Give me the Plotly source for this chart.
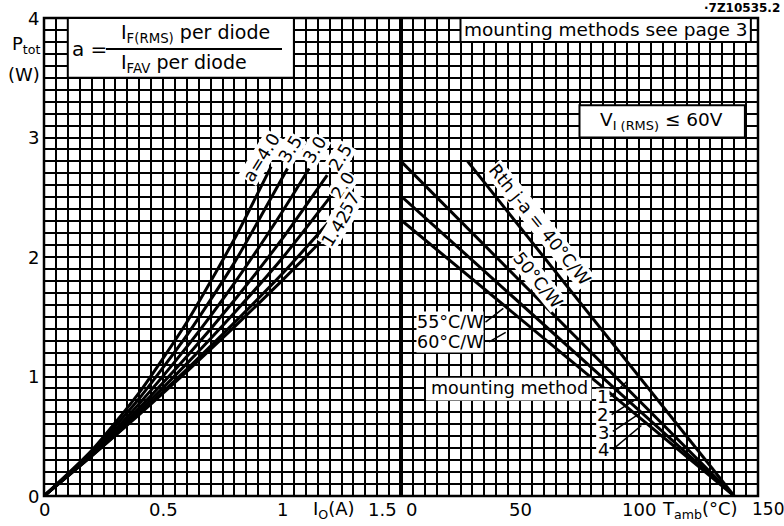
import plotly.graph_objects as go

# ---------------- data ----------------
# left panel: P_tot (W) versus I_O (A) for several form factors a
a_labels = ["a=4.0", "3.5", "3.0", "2.5", "2.0", "1.57", "1.42"]
I_a40 = [0, 0.2, 0.4, 0.6, 0.8, 0.954]
P_a40 = [0, 0.38, 0.865, 1.454, 2.15, 2.756]
I_a35 = [0, 0.2, 0.4, 0.6, 0.8, 1.023]
P_a35 = [0, 0.367, 0.816, 1.344, 1.953, 2.74]
I_a30 = [0, 0.2, 0.4, 0.6, 0.8, 1.0, 1.114]
P_a30 = [0, 0.357, 0.773, 1.248, 1.782, 2.375, 2.74]
I_a25 = [0, 0.2, 0.4, 0.6, 0.8, 1.0, 1.19]
P_a25 = [0, 0.348, 0.737, 1.167, 1.638, 2.15, 2.686]
I_a20 = [0, 0.2, 0.4, 0.6, 0.8, 1.0, 1.198]
P_a20 = [0, 0.341, 0.711, 1.108, 1.534, 1.987, 2.49]
I_a157 = [0, 0.2, 0.4, 0.6, 0.8, 1.0, 1.198]
P_a157 = [0, 0.336, 0.69, 1.061, 1.451, 1.857, 2.295]
I_a142 = [0, 0.2, 0.4, 0.6, 0.8, 1.0, 1.19]
P_a142 = [0, 0.334, 0.681, 1.041, 1.416, 1.802, 2.184]

# right panel: P_tot (W) versus T_amb (degC) for thermal resistances
rth_labels = ["Rth j-a = 40°C/W", "50°C/W", "55°C/W", "60°C/W"]
T_r40 = [28, 140]
P_r40 = [2.8, 0]
T_r50 = [0, 140]
P_r50 = [2.8, 0]
T_r55 = [0, 140]
P_r55 = [2.51, 0]
T_r60 = [0, 140]
P_r60 = [2.31, 0]

mounting_labels = ["1", "2", "3", "4"]

# tick labels
y_ticks = [0, 1, 2, 3, 4]
x1_ticks = [0, 0.5, 1, 1.5]
x1_text = ["0", "0.5", "1", "1.5"]
x2_ticks = [0, 50, 100, 150]
x2_text = ["0", "50", "100", "150"]

FONT = "DejaVu Sans"
BLACK = "black"

fig = go.Figure()

left_series = [(I_a40, P_a40), (I_a35, P_a35), (I_a30, P_a30), (I_a25, P_a25),
               (I_a20, P_a20), (I_a157, P_a157), (I_a142, P_a142)]
for (xs, ys), name in zip(left_series, a_labels):
    fig.add_trace(go.Scatter(x=xs, y=ys, xaxis="x", yaxis="y", mode="lines",
                             line=dict(color=BLACK, width=3, shape="spline", smoothing=0.6),
                             name=name, showlegend=False, hoverinfo="skip"))

right_series = [(T_r40, P_r40), (T_r50, P_r50), (T_r55, P_r55), (T_r60, P_r60)]
for (xs, ys), name in zip(right_series, rth_labels):
    fig.add_trace(go.Scatter(x=xs, y=ys, xaxis="x2", yaxis="y2", mode="lines",
                             line=dict(color=BLACK, width=3),
                             name=name, showlegend=False, hoverinfo="skip"))

def grid_axis(rng, dtick, mdtick, domain=None, anchor=None):
    d = dict(range=rng, dtick=dtick, tick0=0, showgrid=True, gridcolor=BLACK,
             gridwidth=2.4, zeroline=False, showticklabels=False, ticks="",
             showline=False, fixedrange=True,
             minor=dict(dtick=mdtick, tick0=0, showgrid=True, gridcolor=BLACK, gridwidth=1.5))
    if domain is not None:
        d["domain"] = domain
    if anchor is not None:
        d["anchor"] = anchor
    return d

fig.update_layout(
    width=784, height=526,
    margin=dict(l=44, r=26, t=18, b=30),
    paper_bgcolor="white", plot_bgcolor="white",
    xaxis=grid_axis([0, 1.5], 0.25, 0.05, domain=[0, 0.5], anchor="y"),
    xaxis2=grid_axis([0, 150], 25, 5, domain=[0.5, 1], anchor="y2"),
    yaxis=grid_axis([0, 4], 0.5, 0.1, anchor="x"),
    yaxis2=grid_axis([0, 4], 0.5, 0.1, anchor="x2"),
    font=dict(family=FONT, color=BLACK, size=17),
)

shapes = []
# frame and divider
shapes.append(dict(type="rect", xref="paper", yref="paper", x0=0, x1=1, y0=0, y1=1,
                   line=dict(color=BLACK, width=2.5), layer="above"))
shapes.append(dict(type="line", xref="paper", yref="paper", x0=0.5, x1=0.5, y0=0, y1=1,
                   line=dict(color=BLACK, width=4), layer="above"))
# formula box
shapes.append(dict(type="rect", xref="x", yref="y", x0=0.1, x1=1.05, y0=3.5, y1=4,
                   fillcolor="white", line=dict(color=BLACK, width=2), layer="above"))
shapes.append(dict(type="line", xref="x", yref="y", x0=0.26, x1=1.0, y0=3.74, y1=3.74,
                   line=dict(color=BLACK, width=2), layer="above"))
# mounting methods box
shapes.append(dict(type="rect", xref="x2", yref="y2", x0=25, x1=147, y0=3.8, y1=4,
                   fillcolor="white", line=dict(color=BLACK, width=2), layer="above"))
# V_I box
shapes.append(dict(type="rect", xref="x2", yref="y2", x0=75, x1=144.5, y0=3.0, y1=3.27,
                   fillcolor="white", line=dict(color=BLACK, width=2), layer="above"))
# mounting method label area
shapes.append(dict(type="rect", xref="x2", yref="y2", x0=10.5, x1=80, y0=0.8, y1=0.99,
                   fillcolor="white", line=dict(width=0), layer="above"))
# white column behind the mounting-method digits
shapes.append(dict(type="rect", xref="x2", yref="y2", x0=82, x1=87.6, y0=0.31, y1=0.9,
                   fillcolor="white", line=dict(width=0), layer="above"))
# leader lines (right panel)
leaders = [((35.5, 1.455), (43, 1.57)), ((37, 1.29), (44, 1.37)),
           ((88, 0.83), (95, 0.96)), ((88.5, 0.68), (98, 0.80)),
           ((89, 0.54), (101, 0.70)), ((89, 0.39), (101, 0.59))]
for (x0, y0), (x1, y1) in leaders:
    shapes.append(dict(type="line", xref="x2", yref="y2", x0=x0, y0=y0, x1=x1, y1=y1,
                       line=dict(color=BLACK, width=1.5), layer="above"))
fig.update_layout(shapes=shapes)

ann = []
def A(text, x, y, xref="x", yref="y", size=17, angle=0, bg=None, xanchor="center",
      yanchor="middle", xshift=0, yshift=0):
    d = dict(text=text, x=x, y=y, xref=xref, yref=yref, showarrow=False,
             font=dict(family=FONT, size=size, color=BLACK), textangle=angle,
             xanchor=xanchor, yanchor=yanchor, xshift=xshift, yshift=yshift)
    if bg:
        d["bgcolor"] = bg
        d["borderpad"] = 0
    ann.append(d)

# y tick labels
for v in y_ticks:
    A(str(v), 0, v, xref="paper", yref="y", xanchor="right", xshift=-3, size=18)
# left x tick labels
for v, t in zip(x1_ticks, x1_text):
    if v == 1.5:
        A(t, v, 0, yref="paper", yanchor="top", xanchor="right", xshift=-2, yshift=-1, size=18)
    else:
        A(t, v, 0, yref="paper", yanchor="top", yshift=-1, size=18)
for v, t in zip(x2_ticks, x2_text):
    if v == 0:
        A(t, v, 0, xref="x2", yref="paper", yanchor="top", xanchor="left", xshift=3, yshift=-1, size=18)
    elif v == 150:
        A(t, v, 0, xref="x2", yref="paper", yanchor="top", xanchor="left", xshift=-8, yshift=-1, size=17)
    else:
        A(t, v, 0, xref="x2", yref="paper", yanchor="top", yshift=-1, size=18)
A("I<sub>O</sub>(A)", 1.22, 0, yref="paper", yanchor="top", yshift=0, size=18)
A("T<sub>amb</sub>(°C)", 125.5, 0, xref="x2", yref="paper", yanchor="top", yshift=0, size=18)
A("P<sub>tot</sub>", 0, 3.77, xref="paper", xanchor="right", xshift=-1, size=18)
A("(W)", 0, 3.53, xref="paper", xanchor="right", xshift=-2, size=18)
A("<b>·7Z10535.2</b>", 1, 1, xref="paper", yref="paper", xanchor="right", yanchor="bottom",
  size=12, xshift=24, yshift=1)

# formula
A("a =", 0.19, 3.74, size=20)
A("I<sub>F(RMS)</sub> per diode", 0.635, 3.87, size=19)
A("I<sub>FAV</sub> per diode", 0.59, 3.62, size=19)

# a labels
a_pos = [(0.912, 2.83), (1.036, 2.9), (1.14, 2.9), (1.245, 2.84),
         (1.258, 2.6), (1.268, 2.39), (1.23, 2.24)]
for t, (x, y) in zip(a_labels, a_pos):
    A(t, x, y, angle=-58, bg="white", size=17.5)

# right panel texts
A("mounting methods see page 3", 86, 3.9, xref="x2", yref="y2", size=18.5)
A("V<sub>I (RMS)</sub> ≤ 60V", 109.5, 3.14, xref="x2", yref="y2", size=18.5)
A(rth_labels[0], 58.5, 2.27, xref="x2", yref="y2", angle=51, bg="white", size=17.5)
A(rth_labels[1], 57.5, 1.81, xref="x2", yref="y2", angle=51, bg="white", size=17.5)
A(rth_labels[2], 20.5, 1.455, xref="x2", yref="y2", bg="white", size=17.5)
A(rth_labels[3], 20.5, 1.29, xref="x2", yref="y2", bg="white", size=17.5)
A("mounting method", 45.5, 0.9, xref="x2", yref="y2", size=17.5)
m_pos = [(84.5, 0.83), (84.5, 0.68), (85, 0.535), (85, 0.385)]
for t, (x, y) in zip(mounting_labels, m_pos):
    A(t, x, y, xref="x2", yref="y2", size=18)

fig.update_layout(annotations=ann)
fig.write_html("out.html", config={"displayModeBar": False},
               post_script="document.body.style.margin='0px';")
